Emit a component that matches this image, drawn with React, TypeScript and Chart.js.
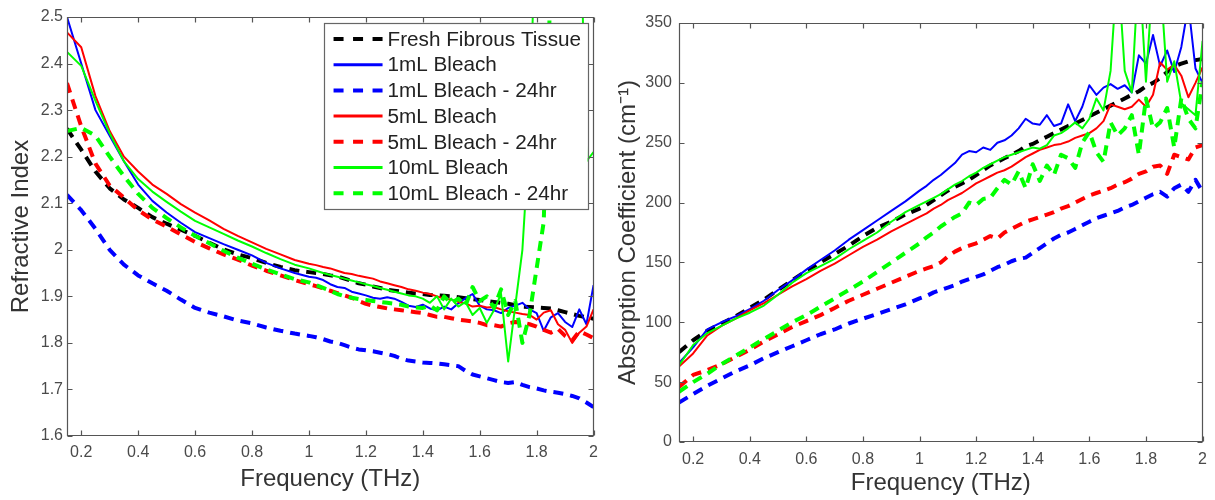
import React, { useEffect, useRef } from 'react';
import { Chart, registerables } from 'chart.js';

Chart.register(...registerables);

const FONT = '"Liberation Sans", Arial, Helvetica, sans-serif';
const TICK_COLOR = '#4a4a4a';
const TITLE_COLOR = '#333333';
const AXIS_COLOR = '#555555';

// ---------- data ----------
const freq = [0.15, 0.2, 0.25, 0.3, 0.35, 0.4, 0.45, 0.5, 0.55, 0.6, 0.65, 0.7, 0.75, 0.8, 0.85, 0.9, 0.95,
  1.0, 1.025, 1.05, 1.075, 1.1, 1.125, 1.15, 1.175, 1.2, 1.225, 1.25, 1.275, 1.3, 1.325, 1.35, 1.375, 1.4, 1.425, 1.45,
  1.475, 1.5, 1.525, 1.55, 1.575, 1.6, 1.625, 1.65, 1.675, 1.7, 1.725, 1.75, 1.775, 1.8, 1.825, 1.85, 1.875, 1.9,
  1.925, 1.95, 1.975, 2.0];

const seriesLabels = ['Fresh Fibrous Tissue', '1mL Bleach', '1mL Bleach - 24hr', '5mL Bleach', '5mL Bleach - 24hr', '10mL Bleach', '10mL Bleach - 24hr'];
const seriesColors = ['#000000', '#0000ff', '#0000ff', '#ff0000', '#ff0000', '#00ff00', '#00ff00'];
const seriesDashed = [true, false, true, false, true, false, true];

// Refractive index
const riFresh = [2.26, 2.215, 2.168, 2.132, 2.108, 2.09, 2.07, 2.056, 2.043, 2.03, 2.015, 2.001, 1.99, 1.982, 1.972, 1.963, 1.956,
  1.952, 1.95, 1.948, 1.945, 1.943, 1.938, 1.933, 1.928, 1.925, 1.921, 1.918, 1.914, 1.912, 1.91, 1.908, 1.906, 1.905, 1.903, 1.902,
  1.901, 1.9, 1.898, 1.896, 1.894, 1.892, 1.89, 1.888, 1.886, 1.884, 1.881, 1.878, 1.877, 1.876, 1.875, 1.874, 1.87, 1.866,
  1.862, 1.858, 1.855, 1.852];
const ri1mL = [2.5, 2.4, 2.3, 2.245, 2.19, 2.14, 2.105, 2.08, 2.058, 2.038, 2.025, 2.012, 2.0, 1.988, 1.972, 1.96, 1.95,
  1.942, 1.94, 1.935, 1.926, 1.92, 1.918, 1.91, 1.906, 1.902, 1.897, 1.895, 1.898, 1.895, 1.888, 1.88, 1.877, 1.882, 1.874, 1.87,
  1.878, 1.872, 1.885, 1.896, 1.905, 1.88, 1.872, 1.87, 1.864, 1.875, 1.88, 1.886, 1.872, 1.864, 1.826, 1.855, 1.864, 1.845,
  1.834, 1.872, 1.84, 1.924];
const ri1mL24 = [2.118, 2.085, 2.045, 2.0, 1.968, 1.945, 1.928, 1.912, 1.893, 1.875, 1.865, 1.857, 1.848, 1.842, 1.833, 1.826, 1.82,
  1.815, 1.812, 1.808, 1.803, 1.8, 1.795, 1.79, 1.786, 1.784, 1.782, 1.779, 1.776, 1.772, 1.766, 1.762, 1.76, 1.758, 1.757, 1.756,
  1.754, 1.752, 1.75, 1.74, 1.732, 1.728, 1.724, 1.72, 1.716, 1.714, 1.716, 1.71, 1.705, 1.702, 1.698, 1.695, 1.693, 1.69,
  1.686, 1.681, 1.672, 1.662];
const ri5mL = [2.467, 2.435, 2.33, 2.255, 2.2, 2.168, 2.14, 2.12, 2.098, 2.08, 2.063, 2.045, 2.03, 2.016, 2.002, 1.99, 1.978,
  1.97, 1.967, 1.963, 1.96, 1.955, 1.95, 1.948, 1.944, 1.941, 1.938, 1.932, 1.928, 1.924, 1.92, 1.915, 1.912, 1.908, 1.905, 1.9,
  1.895, 1.893, 1.888, 1.885, 1.878, 1.88, 1.876, 1.877, 1.872, 1.868, 1.865, 1.862, 1.86, 1.85, 1.865, 1.87, 1.84, 1.828,
  1.8, 1.822, 1.835, 1.872];
const ri5mL24 = [2.358, 2.265, 2.185, 2.138, 2.112, 2.085, 2.065, 2.05, 2.033, 2.017, 2.003, 1.99, 1.979, 1.966, 1.955, 1.945, 1.935,
  1.926, 1.922, 1.917, 1.912, 1.907, 1.902, 1.897, 1.89, 1.884, 1.88, 1.877, 1.874, 1.872, 1.87, 1.868, 1.866, 1.864, 1.86, 1.856,
  1.856, 1.853, 1.85, 1.848, 1.846, 1.843, 1.838, 1.838, 1.835, 1.842, 1.845, 1.843, 1.84, 1.835, 1.828, 1.822, 1.83, 1.815,
  1.805, 1.825, 1.818, 1.81];
const ri10mL = [2.425, 2.395, 2.32, 2.25, 2.19, 2.152, 2.125, 2.103, 2.082, 2.062, 2.048, 2.034, 2.02, 2.007, 1.993, 1.98, 1.968,
  1.96, 1.955, 1.95, 1.946, 1.942, 1.938, 1.934, 1.93, 1.926, 1.922, 1.918, 1.914, 1.91, 1.906, 1.902, 1.9, 1.895, 1.886, 1.9,
  1.872, 1.895, 1.878, 1.888, 1.86, 1.875, 1.843, 1.87, 1.905, 1.76, 1.88, 2.0, 2.25, 2.8, 3.0, 3.0, 3.0, 3.0,
  3.0, 2.8, 2.19, 2.21];
const ri10mL24 = [2.255, 2.262, 2.245, 2.2, 2.158, 2.12, 2.09, 2.068, 2.048, 2.03, 2.014, 1.998, 1.983, 1.97, 1.958, 1.947, 1.937,
  1.93, 1.924, 1.918, 1.912, 1.905, 1.9, 1.897, 1.894, 1.892, 1.89, 1.888, 1.886, 1.884, 1.882, 1.878, 1.876, 1.875, 1.88, 1.87,
  1.9, 1.885, 1.895, 1.88, 1.92, 1.89, 1.9, 1.875, 1.915, 1.86, 1.89, 1.8, 1.86, 1.96, 2.06, 2.6, 3.0, 3.0,
  3.0, 3.0, 3.0, 3.0];

// Absorption coefficient (cm^-1)
const acFresh = [75, 85, 93, 99, 105, 112, 119, 127, 135, 143, 150, 157, 164, 172, 179, 184, 190,
  195, 198, 202, 206, 210, 213, 216, 219, 223, 227, 231, 234, 237, 240, 243, 247, 249, 252, 255,
  258, 261, 264, 266, 269, 272, 275, 278, 281, 284, 287, 290, 293, 297, 300, 304, 309, 314,
  316, 318, 319, 320];
const ac1mL = [66, 79, 94, 100, 105, 111, 118, 127, 135, 144, 152, 160, 169, 177, 185, 193, 201,
  210, 214, 219, 223, 228, 233, 240, 243, 242, 246, 244, 250, 252, 256, 262, 270, 266, 265, 273,
  264, 266, 282, 268, 280, 298, 290, 296, 299, 295, 298, 292, 323, 316, 340, 314, 327, 309,
  330, 365, 312, 300];
const ac1mL24 = [33, 40, 47, 53, 59, 64, 70, 75, 80, 85, 90, 94, 99, 103, 107, 111, 115,
  120, 122, 125, 127, 129, 131, 134, 136, 138, 140, 143, 146, 148, 151, 153, 154, 158, 162, 166,
  170, 173, 175, 178, 181, 184, 187, 189, 191, 193, 196, 198, 201, 204, 207, 209, 205, 212,
  215, 209, 219, 209];
const ac5mL = [63, 74, 89, 97, 103, 110, 116, 123, 130, 136, 143, 149, 156, 163, 169, 176, 182,
  188, 191, 195, 198, 202, 205, 208, 212, 216, 219, 222, 225, 227, 230, 234, 238, 241, 244, 246,
  248, 249, 251, 254, 256, 258, 262, 268, 282, 280, 278, 280, 286, 280, 290, 317, 311, 315,
  306, 288, 300, 313];
const ac5mL24 = [46, 56, 60, 65, 71, 77, 84, 90, 96, 101, 106, 112, 118, 123, 128, 133, 138,
  143, 145, 147, 150, 155, 159, 162, 164, 166, 169, 172, 170, 175, 178, 181, 184, 186, 188, 190,
  192, 195, 197, 200, 203, 206, 208, 210, 212, 215, 217, 220, 224, 226, 230, 231, 224, 240,
  238, 236, 246, 248];
const ac10mL = [64, 81, 91, 97, 103, 108, 114, 123, 133, 141, 147, 153, 161, 168, 175, 184, 192,
  198, 201, 204, 207, 211, 215, 218, 222, 225, 229, 232, 235, 238, 240, 242, 244, 246, 245, 248,
  256, 258, 262, 267, 262, 270, 287, 277, 310, 400, 310, 292, 400, 301, 390, 390, 301, 318,
  283, 278, 273, 335];
const ac10mL24 = [42, 50, 57, 65, 72, 79, 86, 93, 100, 106, 113, 120, 127, 134, 142, 150, 158,
  166, 171, 175, 180, 184, 188, 191, 200, 198, 203, 204, 212, 219, 215, 226, 212, 232, 218, 231,
  223, 240, 237, 229, 250, 259, 242, 234, 267, 256, 262, 273, 240, 287, 262, 267, 279, 246,
  287, 270, 262, 301];

const riSeries = [riFresh, ri1mL, ri1mL24, ri5mL, ri5mL24, ri10mL, ri10mL24];
const acSeries = [acFresh, ac1mL, ac1mL24, ac5mL, ac5mL24, ac10mL, ac10mL24];

const xTicks = [0.2, 0.4, 0.6, 0.8, 1, 1.2, 1.4, 1.6, 1.8, 2];
const riTicks = [1.6, 1.7, 1.8, 1.9, 2, 2.1, 2.2, 2.3, 2.4, 2.5];
const acTicks = [0, 50, 100, 150, 200, 250, 300, 350];

// ---------- helpers ----------
const fmt = (v: number) => String(Math.round(v * 1000) / 1000);
const DASH = [10, 7];

function makeDatasets(values: number[][]) {
  return values.map((vals, i) => ({
    label: seriesLabels[i],
    data: vals.map((v, j) => ({ x: freq[j], y: v })),
    borderColor: seriesColors[i],
    backgroundColor: seriesColors[i],
    borderWidth: seriesDashed[i] ? 4 : 2,
    borderDash: seriesDashed[i] ? DASH : [],
    borderCapStyle: 'butt' as const,
    borderJoinStyle: 'round' as const,
    pointRadius: 0,
    tension: 0,
    fill: false,
    order: values.length - 1 - i,
  }));
}

const framePlugin = {
  id: 'matlabFrame',
  afterDatasetsDraw(chart: any) {
    const { ctx, chartArea } = chart;
    const { left, right, top, bottom } = chartArea;
    const xs = chart.scales.x;
    const ys = chart.scales.y;
    const L = Math.round(left) + 0.5;
    const R = Math.round(right) - 0.5;
    const T = Math.round(top) + 0.5;
    const B = Math.round(bottom) - 0.5;
    ctx.save();
    ctx.strokeStyle = AXIS_COLOR;
    ctx.lineWidth = 1.2;
    ctx.setLineDash([]);
    ctx.beginPath();
    ctx.rect(L, T, R - L, B - T);
    const tl = 5;
    xs.ticks.forEach((t: any) => {
      const px = Math.round(xs.getPixelForValue(t.value)) + 0.5;
      ctx.moveTo(px, B); ctx.lineTo(px, B - tl);
      ctx.moveTo(px, T); ctx.lineTo(px, T + tl);
    });
    ys.ticks.forEach((t: any) => {
      const py = Math.round(ys.getPixelForValue(t.value)) + 0.5;
      ctx.moveTo(L, py); ctx.lineTo(L + tl, py);
      ctx.moveTo(R, py); ctx.lineTo(R - tl, py);
    });
    ctx.stroke();
    ctx.restore();
  },
};

const legendPlugin = {
  id: 'boxLegend',
  afterDraw(chart: any) {
    const { ctx, chartArea } = chart;
    const right = chartArea.right - 6;
    const top = chartArea.top + 6;
    const w = 264;
    const h = 186;
    const left = right - w;
    ctx.save();
    ctx.fillStyle = '#ffffff';
    ctx.fillRect(left, top, w, h);
    ctx.strokeStyle = '#666666';
    ctx.lineWidth = 1.2;
    ctx.setLineDash([]);
    ctx.strokeRect(Math.round(left) + 0.5, Math.round(top) + 0.5, w, h);
    ctx.font = `20.7px ${FONT}`;
    ctx.textBaseline = 'middle';
    ctx.textAlign = 'left';
    const rowH = 25.7;
    seriesLabels.forEach((label, i) => {
      const cy = top + 16 + i * rowH;
      ctx.beginPath();
      ctx.strokeStyle = seriesColors[i];
      ctx.lineWidth = seriesDashed[i] ? 4 : 3;
      ctx.lineCap = 'butt';
      ctx.setLineDash(seriesDashed[i] ? [10, 9.5] : []);
      ctx.moveTo(left + 10, cy);
      ctx.lineTo(left + 59, cy);
      ctx.stroke();
      ctx.setLineDash([]);
      ctx.fillStyle = '#222222';
      ctx.fillText(label, left + 64, cy + 1);
    });
    ctx.restore();
  },
};

type PanelProps = {
  left: number;
  width: number;
  values: number[][];
  yMin: number;
  yMax: number;
  yTicks: number[];
  yTitle: string;
  pad: { left: number; right: number; top: number; bottom: number };
  yAxisW: number;
  xAxisH: number;
  yTickPad: number;
  xTickPad: number;
  yTitlePad: number;
  xTitlePad: number;
  legend: boolean;
};

function Panel(p: PanelProps) {
  const ref = useRef<HTMLCanvasElement>(null);
  useEffect(() => {
    if (!ref.current) return;
    const plugins: any[] = [framePlugin];
    if (p.legend) plugins.push(legendPlugin);
    const chart = new Chart(ref.current, {
      type: 'line',
      data: { datasets: makeDatasets(p.values) as any },
      plugins,
      options: {
        animation: false,
        responsive: false,
        events: [],
        layout: { padding: p.pad },
        plugins: { legend: { display: false }, tooltip: { enabled: false } },
        scales: {
          x: {
            type: 'linear',
            min: 0.15,
            max: 2,
            afterBuildTicks: (s: any) => { s.ticks = xTicks.map((v) => ({ value: v })); },
            afterFit: (s: any) => { s.height = p.xAxisH; },
            grid: { display: false, drawTicks: false },
            border: { display: false },
            ticks: {
              autoSkip: false,
              maxRotation: 0,
              padding: p.xTickPad,
              color: TICK_COLOR,
              font: { family: FONT, size: 16 },
              callback: (v: any) => fmt(Number(v)),
            },
            title: {
              display: true,
              text: 'Frequency (THz)',
              color: TITLE_COLOR,
              font: { family: FONT, size: 24 },
              padding: { top: 0, bottom: p.xTitlePad },
            },
          },
          y: {
            type: 'linear',
            min: p.yMin,
            max: p.yMax,
            afterBuildTicks: (s: any) => { s.ticks = p.yTicks.map((v) => ({ value: v })); },
            afterFit: (s: any) => { s.width = p.yAxisW; },
            grid: { display: false, drawTicks: false },
            border: { display: false },
            ticks: {
              autoSkip: false,
              padding: p.yTickPad,
              color: TICK_COLOR,
              font: { family: FONT, size: 16 },
              callback: (v: any) => fmt(Number(v)),
            },
            title: {
              display: true,
              text: p.yTitle,
              color: TITLE_COLOR,
              font: { family: FONT, size: 24 },
              padding: { top: p.yTitlePad, bottom: 0 },
            },
          },
        },
      } as any,
    });
    return () => chart.destroy();
  }, []);
  return (
    <canvas
      ref={ref}
      width={p.width}
      height={500}
      style={{ position: 'absolute', left: p.left, top: 0, width: p.width, height: 500, display: 'block' }}
    />
  );
}

export default function App() {
  return (
    <div style={{ position: 'absolute', left: 0, top: 0, width: 1215, height: 500, background: '#ffffff', overflow: 'hidden' }}>
      <Panel
        left={0}
        width={605}
        values={riSeries}
        yMin={1.6}
        yMax={2.5}
        yTicks={riTicks}
        yTitle="Refractive Index"
        pad={{ left: 0, right: 7, top: 17, bottom: 0 }}
        yAxisW={67}
        xAxisH={64}
        yTickPad={4}
        xTickPad={7}
        yTitlePad={7}
        xTitlePad={6}
        legend={true}
      />
      <Panel
        left={605}
        width={610}
        values={acSeries}
        yMin={0}
        yMax={350}
        yTicks={acTicks}
        yTitle="Absorption Coefficient (cm⁻¹)"
        pad={{ left: 0, right: 8, top: 23, bottom: 0 }}
        yAxisW={74}
        xAxisH={58}
        yTickPad={7}
        xTickPad={8}
        yTitlePad={9}
        xTitlePad={2}
        legend={false}
      />
    </div>
  );
}
